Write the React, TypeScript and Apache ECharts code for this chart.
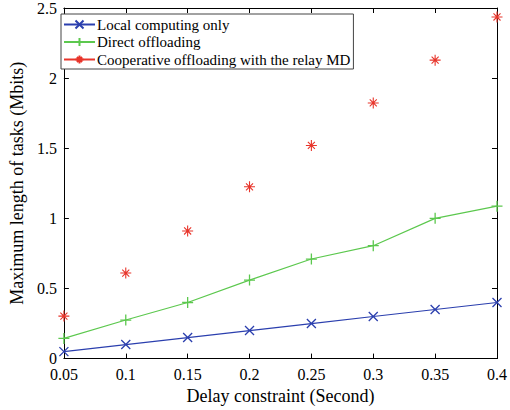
import React, { useEffect, useRef } from "react";
import * as echarts from "echarts";

const xValues = [0.05, 0.1, 0.15, 0.2, 0.25, 0.3, 0.35, 0.4];
const localOnly = [0.05, 0.1, 0.15, 0.2, 0.25, 0.3, 0.35, 0.4];
const directOffloading = [0.144, 0.275, 0.4, 0.56, 0.71, 0.805, 1.0, 1.087];
const cooperative = [0.303, 0.61, 0.91, 1.225, 1.52, 1.823, 2.128, 2.436];
const seriesNames = [
  "Local computing only",
  "Direct offloading",
  "Cooperative offloading with the relay MD",
];

const FONT = "'Liberation Serif', 'DejaVu Serif', serif";
const CROSS = "path://M0,0L10,10M10,0L0,10";
const PLUS = "path://M5,0L5,10M0,5L10,5";
const STAR = "path://M5,0L5,10M0,5L10,5M1.8,1.8L8.2,8.2M8.2,1.8L1.8,8.2";
const RED = "#e8352b";

export default function App() {
  const ref = useRef<HTMLDivElement>(null);
  useEffect(() => {
    if (!ref.current) return;
    const chart = echarts.init(ref.current, undefined, { renderer: "svg" });
    const pair = (ys: number[]) => xValues.map((x, i) => [x, ys[i]]);
    // markers only: a break after every point so no connecting segments are drawn
    const markersOnly = (ys: number[]) =>
      xValues.flatMap((x, i) => [[x, ys[i]], [x, "-"]]);
    const axisCommon = {
      axisLine: { show: true, onZero: false, lineStyle: { color: "#000", width: 1 } },
      axisTick: { show: true, inside: true, length: 5, lineStyle: { color: "#000" } },
      splitLine: { show: false },
    };
    const fmt = (v: number) => String(parseFloat(v.toFixed(2)));
    chart.setOption({
      animation: false,
      backgroundColor: "#fff",
      textStyle: { fontFamily: FONT },
      grid: { left: 54, right: 9, top: 7, bottom: 51 },
      legend: {
        orient: "vertical",
        left: 61,
        top: 14,
        itemWidth: 31,
        itemHeight: 10,
        itemGap: 2.5,
        padding: [3, 3, 2, 2],
        borderColor: "#444",
        borderWidth: 1,
        backgroundColor: "#fff",
        textStyle: { fontFamily: FONT, fontSize: 15, color: "#000", padding: [0, 0, 0, -3] },
        data: seriesNames,
      },
      xAxis: [
        {
          type: "value",
          min: 0.05,
          max: 0.4,
          interval: 0.05,
          position: "bottom",
          name: "Delay constraint (Second)",
          nameLocation: "middle",
          nameGap: 25,
          nameTextStyle: { fontFamily: FONT, fontSize: 18, color: "#000" },
          axisLabel: { fontFamily: FONT, fontSize: 16, color: "#000", margin: 9, lineHeight: 13, formatter: fmt },
          ...axisCommon,
        },
        {
          type: "value",
          min: 0.05,
          max: 0.4,
          interval: 0.05,
          position: "top",
          axisLabel: { show: false },
          ...axisCommon,
        },
      ],
      yAxis: [
        {
          type: "value",
          min: 0,
          max: 2.5,
          interval: 0.5,
          position: "left",
          name: "Maximum length of tasks (Mbits)",
          nameLocation: "middle",
          nameGap: 29,
          nameTextStyle: { fontFamily: FONT, fontSize: 18, color: "#000" },
          axisLabel: { fontFamily: FONT, fontSize: 16, color: "#000", margin: 7, lineHeight: 12, formatter: fmt },
          ...axisCommon,
        },
        {
          type: "value",
          min: 0,
          max: 2.5,
          interval: 0.5,
          position: "right",
          axisLabel: { show: false },
          ...axisCommon,
        },
      ],
      series: [
        {
          name: seriesNames[0],
          type: "line",
          data: pair(localOnly),
          symbol: CROSS,
          symbolSize: 9,
          showAllSymbol: true,
          color: "#2b3fae",
          lineStyle: { color: "#2b3fae", width: 1.2 },
          itemStyle: { color: "#2b3fae", borderColor: "#2b3fae", borderWidth: 1.3 },
        },
        {
          name: seriesNames[1],
          type: "line",
          data: pair(directOffloading),
          symbol: PLUS,
          symbolSize: 11,
          showAllSymbol: true,
          color: "#5cc84e",
          lineStyle: { color: "#5cc84e", width: 1.2 },
          itemStyle: { color: "#5cc84e", borderColor: "#5cc84e", borderWidth: 1.3 },
        },
        {
          name: seriesNames[2],
          type: "line",
          data: markersOnly(cooperative),
          connectNulls: false,
          symbol: STAR,
          symbolSize: 11,
          showAllSymbol: true,
          color: RED,
          lineStyle: { color: RED, width: 1.2 },
          itemStyle: { color: "none", borderColor: RED, borderWidth: 1.1 },
        },
      ],
    });
    return () => chart.dispose();
  }, []);
  return <div ref={ref} style={{ width: 510, height: 410, position: "absolute", left: 0, top: 0 }} />;
}
